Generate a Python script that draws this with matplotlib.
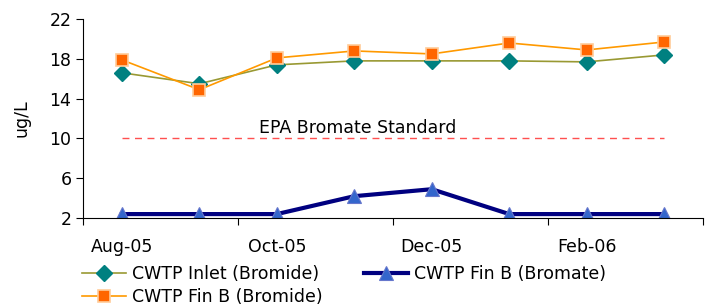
import numpy as np
import matplotlib.pyplot as plt

plt.rcParams['font.family'] = ['DejaVu Sans']

months = ['Aug-05', 'Sep-05', 'Oct-05', 'Nov-05', 'Dec-05', 'Jan-06', 'Feb-06', 'Mar-06']
inlet_bromide = [16.6, 15.5, 17.4, 17.8, 17.8, 17.8, 17.7, 18.4]
finb_bromide = [17.9, 14.9, 18.1, 18.8, 18.5, 19.6, 18.9, 19.7]
finb_bromate = [2.4, 2.4, 2.4, 4.2, 4.9, 2.4, 2.4, 2.4]
epa_standard = [10] * len(months)

x = np.arange(len(months))
fs = 12.5

fig = plt.figure(figsize=(7.05, 3.08), dpi=100)
ax = fig.add_axes([0.118, 0.292, 0.879, 0.646])

ax.plot(x, epa_standard, color='#ff5050', linestyle=(0, (5, 4)), linewidth=1)
l1, = ax.plot(x, inlet_bromide, color='#999933', linewidth=1.2, marker='D', markersize=8,
              markerfacecolor='#008080', markeredgecolor='#008080', label='CWTP Inlet (Bromide)')
l3, = ax.plot(x, finb_bromide, color='#ff9900', linewidth=1.2, marker='s', markersize=9,
              markerfacecolor='#ff6600', markeredgecolor='#ffcc99', markeredgewidth=1.2,
              label='CWTP Fin B (Bromide)')
l2, = ax.plot(x, finb_bromate, color='#000080', linewidth=3, marker='^', markersize=10,
              markerfacecolor='#3366cc', markeredgecolor='#6677cc', markeredgewidth=0.8,
              label='CWTP Fin B (Bromate)')

ax.text(3.05, 10.6, 'EPA Bromate Standard', fontsize=fs, ha='center', va='baseline')

ax.set_xlim(-0.5, len(months) - 0.5)
ax.set_ylim(2, 22)
ax.set_yticks([2, 6, 10, 14, 18, 22])
ax.set_xticks(np.arange(-0.5, len(months), 2))
ax.set_xticklabels([])
ax.set_xticks(x[::2], minor=True)
ax.set_xticklabels(months[::2], minor=True)
ax.tick_params(axis='x', which='minor', length=0, pad=14, labelsize=fs)
ax.tick_params(axis='x', which='major', length=5, direction='out')
ax.tick_params(axis='y', labelsize=fs, length=5)
ax.set_ylabel('ug/L', fontsize=fs)
ax.yaxis.set_label_coords(-0.085, 0.5)

for s in ['top', 'right']:
    ax.spines[s].set_visible(False)

fig.legend(handles=[l1, l3, l2], loc='upper left', bbox_to_anchor=(0.117, 0.14),
           ncol=2, frameon=False, fontsize=fs, handlelength=2.5, handletextpad=0.35,
           columnspacing=2.4, labelspacing=0.3, borderaxespad=0, borderpad=0)

fig.savefig('out.png', dpi=100)
